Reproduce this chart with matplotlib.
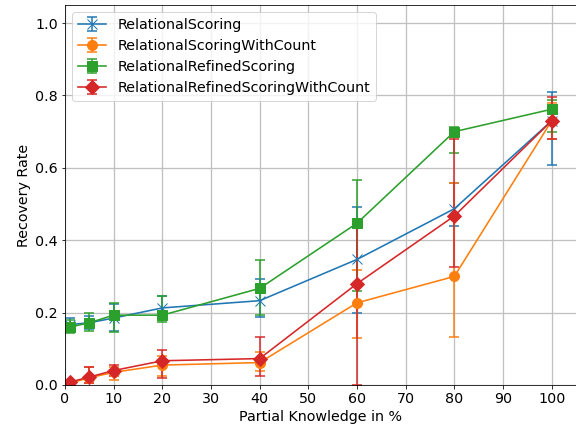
import numpy as np
import matplotlib.pyplot as plt

X=[1,5,10,20,40,60,80,100]
SERIES=['RelationalScoring','RelationalScoringWithCount',
        'RelationalRefinedScoring','RelationalRefinedScoringWithCount']
MEANS=[
    [0.167,0.172,0.185,0.213,0.233,0.347,0.487,0.730],
    [0.005,0.020,0.035,0.055,0.062,0.227,0.300,0.730],
    [0.160,0.172,0.193,0.193,0.267,0.447,0.700,0.762],
    [0.008,0.022,0.040,0.067,0.073,0.280,0.467,0.730],
]
# lower / upper end of each error bar
LOWS=[
    [0.150,0.155,0.150,0.185,0.188,0.200,0.440,0.608],
    [0.000,0.005,0.015,0.025,0.040,0.130,0.133,0.680],
    [0.145,0.150,0.147,0.175,0.193,0.260,0.640,0.700],
    [0.000,0.005,0.025,0.020,0.025,0.000,0.326,0.680],
]
HIGHS=[
    [0.185,0.190,0.225,0.245,0.293,0.492,0.558,0.810],
    [0.012,0.050,0.050,0.080,0.090,0.318,0.558,0.780],
    [0.180,0.200,0.227,0.246,0.345,0.566,0.712,0.787],
    [0.015,0.050,0.055,0.097,0.133,0.440,0.680,0.796],
]
MARKERS=['x','o','s','D']

plt.rcParams['font.size']=14.2
fig,ax=plt.subplots(figsize=(8,433/72),dpi=72)
for name,m,lo,hi,mk in zip(SERIES,MEANS,LOWS,HIGHS,MARKERS):
    m=np.array(m)
    err=[m-np.array(lo),np.array(hi)-m]
    ax.errorbar(X,m,yerr=err,marker=mk,capsize=5,markersize=10,
                linewidth=1.6,elinewidth=1.5,capthick=1.5,label=name)
ax.set_xlim(0,105)
ax.set_ylim(0,1.05)
ax.set_xticks(np.arange(0,101,10))
ax.set_xlabel('Partial Knowledge in %')
ax.set_ylabel('Recovery Rate')
ax.grid(True,color='#c0c0c0',linewidth=1.3)
ax.legend(loc='upper left')
fig.subplots_adjust(left=65/576,right=576/576,top=1-5/433,bottom=1-385/433)
fig.savefig('out.png')
